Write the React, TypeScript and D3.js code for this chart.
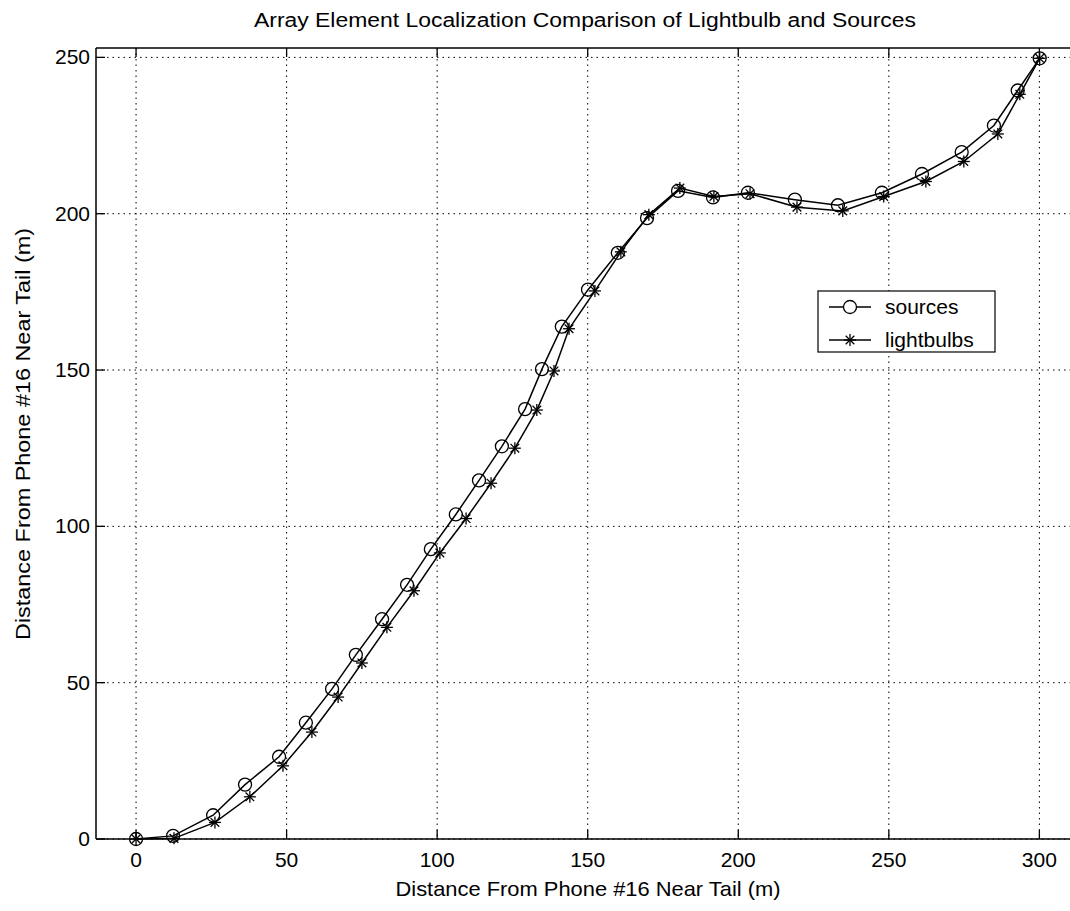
import React from "react";
import * as d3 from "d3";

const xSources = [0, 12.3, 25.6, 36.2, 47.5, 56.4, 65.1, 73.0, 81.7, 90.0, 97.9, 106.2, 113.9, 121.5, 129.2, 134.8, 141.4, 150.1, 160.0, 169.7, 180.0, 191.6, 203.2, 218.8, 233.1, 247.7, 261.0, 274.2, 284.9, 292.8, 300.1];
const ySources = [0, 1.0, 7.6, 17.4, 26.3, 37.2, 48.0, 58.9, 70.3, 81.3, 92.7, 103.8, 114.7, 125.6, 137.5, 150.3, 163.9, 175.7, 187.5, 198.6, 207.3, 205.2, 206.7, 204.5, 202.7, 206.7, 212.7, 219.7, 228.2, 239.4, 249.7];
const xBulbs = [0, 12.6, 26.2, 37.8, 48.8, 58.4, 67.1, 75.0, 83.3, 92.3, 100.9, 109.6, 117.9, 125.8, 133.1, 138.8, 143.8, 152.4, 161.0, 170.3, 180.6, 191.9, 203.9, 219.5, 234.7, 248.3, 262.3, 274.9, 286.2, 293.5, 300.1];
const yBulbs = [0, 0.2, 5.3, 13.5, 23.4, 34.2, 45.4, 56.3, 67.7, 79.4, 91.5, 102.5, 113.8, 125.0, 137.2, 149.7, 163.2, 175.3, 187.8, 199.7, 208.2, 205.5, 206.4, 202.1, 200.9, 205.5, 210.3, 216.7, 225.5, 238.2, 249.7];
const xTicks = [0, 50, 100, 150, 200, 250, 300];
const yTicks = [0, 50, 100, 150, 200, 250];
const legendLabels = ["sources", "lightbulbs"];
const titleText = "Array Element Localization Comparison of Lightbulb and Sources";
const xLabelText = "Distance From Phone #16 Near Tail (m)";
const yLabelText = "Distance From Phone #16 Near Tail (m)";

const FONT = "'Liberation Sans', Arial, Helvetica, sans-serif";

function Star({ cx, cy, r }: { cx: number; cy: number; r: number }) {
  const d = r * 0.72;
  return (
    <g stroke="#000" strokeWidth={1.3}>
      <line x1={cx - r} y1={cy} x2={cx + r} y2={cy} />
      <line x1={cx} y1={cy - r} x2={cx} y2={cy + r} />
      <line x1={cx - d} y1={cy - d} x2={cx + d} y2={cy + d} />
      <line x1={cx - d} y1={cy + d} x2={cx + d} y2={cy - d} />
    </g>
  );
}

export default function App() {
  const W = 1070, H = 911;
  const L = 96, R = 1071, T = 48, B = 839;
  const x = d3.scaleLinear().domain([-13.3, 310.5]).range([L, R]);
  const y = d3.scaleLinear().domain([0, 253]).range([B, T]);

  const srcPts = xSources.map((v, i) => [x(v), y(ySources[i])] as [number, number]);
  const bulbPts = xBulbs.map((v, i) => [x(v), y(yBulbs[i])] as [number, number]);
  const line = d3.line();

  const gridDash = "1.5,4";

  return (
    <svg width={W} height={H} style={{ position: "absolute", left: 0, top: 0, background: "#fff" }} fontFamily={FONT}>
      <rect x={0} y={0} width={W} height={H} fill="#fff" />
      {/* grid */}
      {xTicks.map((t) => (
        <line key={"gx" + t} x1={x(t)} x2={x(t)} y1={T} y2={B} stroke="#000" strokeWidth={1} strokeDasharray={gridDash} />
      ))}
      {yTicks.map((t) => (
        <line key={"gy" + t} x1={L} x2={R} y1={y(t)} y2={y(t)} stroke="#000" strokeWidth={1} strokeDasharray={gridDash} />
      ))}
      {/* axes box */}
      <line x1={L} x2={L} y1={T} y2={B} stroke="#000" strokeWidth={1.5} />
      <line x1={L} x2={R} y1={B} y2={B} stroke="#000" strokeWidth={1.5} />
      <line x1={L} x2={R} y1={T} y2={T} stroke="#000" strokeWidth={1.5} />
      {/* ticks */}
      {xTicks.map((t) => (
        <g key={"tx" + t}>
          <line x1={x(t)} x2={x(t)} y1={B} y2={B - 9} stroke="#000" strokeWidth={1.3} />
          <line x1={x(t)} x2={x(t)} y1={T} y2={T + 9} stroke="#000" strokeWidth={1.3} />
          <text x={x(t)} y={B + 28} textAnchor="middle" fontSize={21} fill="#000">{t}</text>
        </g>
      ))}
      {yTicks.map((t) => (
        <g key={"ty" + t}>
          <line x1={L} x2={L + 9} y1={y(t)} y2={y(t)} stroke="#000" strokeWidth={1.3} />
          <text x={L - 6} y={y(t) + 7} textAnchor="end" fontSize={21} fill="#000">{t}</text>
        </g>
      ))}
      {/* series lines */}
      <path d={line(srcPts) || ""} fill="none" stroke="#000" strokeWidth={1.5} />
      <path d={line(bulbPts) || ""} fill="none" stroke="#000" strokeWidth={1.5} />
      {srcPts.map((p, i) => (
        <circle key={"c" + i} cx={p[0]} cy={p[1]} r={6.5} fill="none" stroke="#000" strokeWidth={1.3} />
      ))}
      {bulbPts.map((p, i) => (
        <Star key={"s" + i} cx={p[0]} cy={p[1]} r={6} />
      ))}
      {/* legend */}
      <rect x={818} y={291} width={177} height={61} fill="#fff" stroke="#000" strokeWidth={1.2} />
      <line x1={829} x2={871} y1={307} y2={307} stroke="#000" strokeWidth={1.5} />
      <circle cx={850} cy={307} r={6.5} fill="#fff" stroke="#000" strokeWidth={1.3} />
      <text x={885} y={314} fontSize={21} fill="#000">{legendLabels[0]}</text>
      <line x1={829} x2={871} y1={340} y2={340} stroke="#000" strokeWidth={1.5} />
      <Star cx={850} cy={340} r={6} />
      <text x={885} y={347} fontSize={21} fill="#000">{legendLabels[1]}</text>
      {/* title and labels */}
      <text x={585} y={27} textAnchor="middle" fontSize={20} fill="#000" textLength={662} lengthAdjust="spacingAndGlyphs">{titleText}</text>
      <text x={588} y={896} textAnchor="middle" fontSize={21} fill="#000" textLength={385} lengthAdjust="spacingAndGlyphs">{xLabelText}</text>
      <text transform={`translate(30,434) rotate(-90)`} textAnchor="middle" fontSize={21} fill="#000" textLength={412} lengthAdjust="spacingAndGlyphs">{yLabelText}</text>
    </svg>
  );
}
